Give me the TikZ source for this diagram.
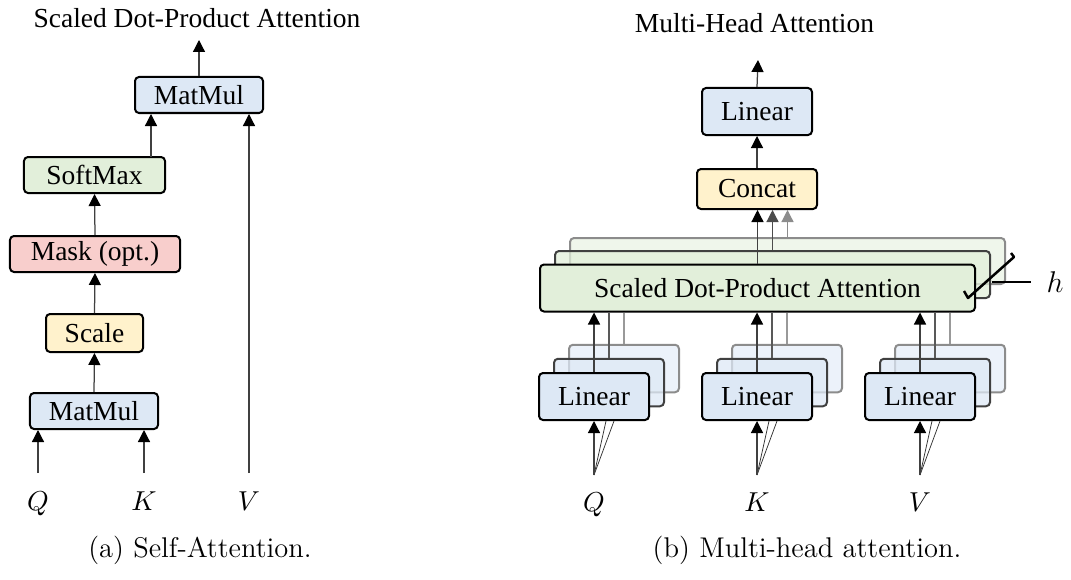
\documentclass[tikz,border=0pt]{standalone}
\usepackage{fontspec}
\newfontfamily\tf{Liberation Serif}
\usetikzlibrary{arrows.meta}
\definecolor{cblue}{HTML}{DDE8F5}
\definecolor{cgreen}{HTML}{E2EFDA}
\definecolor{cred}{HTML}{F8CECC}
\definecolor{cyellow}{HTML}{FFF2CC}
\begin{document}
\begin{tikzpicture}[x=0.4pt,y=-0.4pt,
  box/.style={draw=black, line width=0.8pt, rounded corners=1.6pt, inner sep=0pt,
    font=\tf\fontsize{11}{13}\selectfont},
  lay1/.style={box, draw=black!75, fill opacity=0.75},
  lay2/.style={box, draw=black!45, fill opacity=0.55},
  arr/.style={draw=black!75, line width=0.5pt, -{Triangle[width=4.8pt,length=4.8pt,color=black]}},
  darr/.style={draw=black!70, line width=0.5pt, -{Triangle[width=4.8pt,length=4.8pt]}},
  larr/.style={draw=black!45, line width=0.5pt, -{Triangle[width=4.8pt,length=4.8pt]}},
  dline/.style={draw=black!65, line width=0.5pt},
  lline/.style={draw=black!40, line width=0.5pt},
  fan/.style={draw=black!80, line width=0.3pt},
  ttl/.style={font=\tf\fontsize{11}{13}\selectfont, anchor=base, inner sep=0pt},
  capt/.style={font=\fontsize{11.4}{13}\selectfont, anchor=base, inner sep=0pt},
  lbl/.style={font=\fontsize{10.5}{12}\selectfont, anchor=base, inner sep=0pt}]
\useasboundingbox (0,0) rectangle (1071,579);

% ---------- (a) Self-attention ----------
\node[ttl] (ta) at (197,28) {Scaled Dot-Product Attention};
\node[box, fill=cblue, minimum width=51.2pt, minimum height=14.4pt] (mm2) at (199,95) {MatMul};
\node[box, fill=cgreen, minimum width=56.4pt, minimum height=14.4pt] (sm) at (94.5,175) {SoftMax};
\node[box, fill=cred, minimum width=68pt, minimum height=14.4pt] (mask) at (95,254) {Mask (opt.)};
\node[box, fill=cyellow, minimum width=38.8pt, minimum height=15.2pt] (scale) at (94.5,333) {Scale};
\node[box, fill=cblue, minimum width=51.2pt, minimum height=14.4pt] (mm1) at (94,411) {MatMul};

\node[lbl] (qa) at (38,510) {$Q$};
\node[lbl] (ka) at (144,510) {$K$};
\node[lbl] (va) at (249,510) {$V$};
\coordinate (qas) at (38,473);
\coordinate (kas) at (144,473);
\coordinate (vas) at (249,473);
\coordinate (outa) at (199,40);
\coordinate (smo) at (151,157);

\draw[arr] (qas) -- (qas |- mm1.south);
\draw[arr] (kas) -- (kas |- mm1.south);
\draw[arr] (vas) -- (vas |- mm2.south);
\draw[arr] (mm1.north) -- (scale.south);
\draw[arr] (scale.north) -- (mask.south);
\draw[arr] (mask.north) -- (sm.south);
\draw[arr] (smo) -- (smo |- mm2.south);
\draw[arr] (mm2.north) -- (outa);

\node[capt] (capa) at (200,557) {(a) Self-Attention.};

% ---------- (b) Multi-head attention ----------
\node[ttl] (tb) at (754.5,33) {Multi-Head Attention};
\node[box, fill=cblue, minimum width=44pt, minimum height=18.8pt] (linT) at (757,111.5) {Linear};
\node[box, fill=cyellow, minimum width=48pt, minimum height=16pt] (concat) at (757,189) {Concat};
\coordinate (outb) at (758,60);

\node[lay2, fill=cgreen, minimum width=174pt, minimum height=18.4pt] (sd3) at (787.5,261) {};
\node[lay1, fill=cgreen, minimum width=174pt, minimum height=18.8pt] (sd2) at (772.5,274.5) {};
\node[box, fill=cgreen, minimum width=174pt, minimum height=18.8pt] (sd1) at (757.5,288) {Scaled Dot-Product Attention};

\draw[arr] (sd1.north) -- (sd1.north |- concat.south);
\draw[darr] (sd2.north) -- (sd2.north |- concat.south);
\draw[larr] (sd3.north) -- (sd3.north |- concat.south);
\draw[arr] (concat.north) -- (linT.south);
\draw[arr] (linT.north) -- (outb);

\foreach \n/\x in {q/594,k/757,v/920}{
  \node[lay2, fill=cblue, minimum width=44pt, minimum height=19pt] (l\n3) at (\x+30,368.5) {};
  \node[lay1, fill=cblue, minimum width=44pt, minimum height=19pt] (l\n2) at (\x+15,382.5) {};
  \node[box, fill=cblue, minimum width=44pt, minimum height=18.8pt] (l\n1) at (\x,396.5) {Linear};
  \coordinate (i\n) at (\x,475);
}
\foreach \n in {q,k,v}{
  \draw[lline] (l\n3.north) -- (l\n3.north |- sd1.south);
  \draw[dline] (l\n2.north) -- (l\n2.north |- sd1.south);
  \draw[arr] (l\n1.north) -- (l\n1.north |- sd1.south);
  \draw[fan] (i\n) -- ([xshift=4.8pt]l\n1.south);
  \draw[fan] (i\n) -- ([xshift=8pt]l\n1.south);
  \draw[arr] (i\n) -- (l\n1.south);
}
\node[lbl] (qb) at (594,511) {$Q$};
\node[lbl] (kb) at (757,511) {$K$};
\node[lbl] (vb) at (920,511) {$V$};

% h slash
\coordinate (s1) at (964,291);
\coordinate (s2) at (968,298);
\coordinate (s3) at (1014,257);
\coordinate (s4) at (1011,253);
\draw[line width=1pt, line join=round] (s1) -- (s2) -- (s3) -- (s4);
\coordinate (h1) at (992,282);
\coordinate (h2) at (1031,282);
\node[font=\fontsize{12}{14}\selectfont, anchor=base, inner sep=0pt] (hl) at (1055,292) {$h$};
\draw[line width=1pt] (h1) -- (h2);

\node[capt] (capb) at (807,557) {(b) Multi-head attention.};
\end{tikzpicture}
\end{document}
